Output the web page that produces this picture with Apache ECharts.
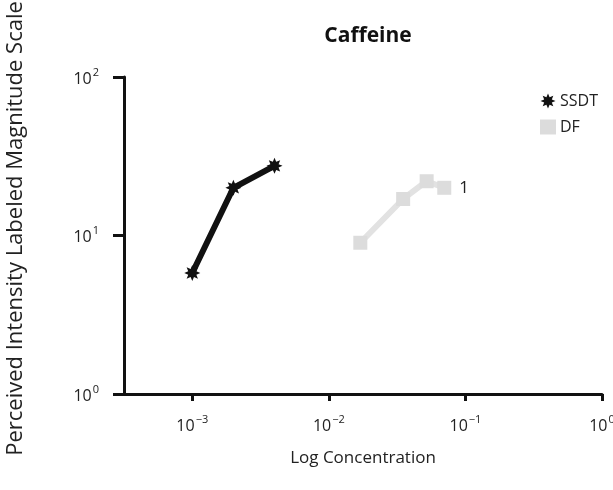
<!DOCTYPE html>
<html>
<head>
<meta charset="utf-8">
<style>html,body{margin:0;padding:0;background:#fff}#c{width:613px;height:490px}</style>
<script src="https://cdn.jsdelivr.net/npm/echarts@6/dist/echarts.min.js"></script>
</head>
<body>
<div id="c"></div>
<script>
// Data
const ssdtX = [0.001, 0.002, 0.004];
const ssdtY = [5.8, 20, 27.5];
const dfX = [0.017, 0.035, 0.052, 0.07];
const dfY = [9, 17, 22, 20];
const xTicks = [0.001, 0.01, 0.1, 1];
const yTicks = [1, 10, 100];
const title = 'Caffeine';
const xName = 'Log Concentration';
const yName = 'Perceived Intensity Labeled Magnitude Scale';
const seriesNames = ['SSDT', 'DF'];
const dfEndLabel = '1';

function starPath(n, ro, ri) {
  let d = '';
  for (let i = 0; i < n * 2; i++) {
    const r = i % 2 === 0 ? ro : ri;
    const a = Math.PI * i / n - Math.PI / 2;
    d += (i === 0 ? 'M' : 'L') + (r * Math.cos(a)).toFixed(3) + ' ' + (r * Math.sin(a)).toFixed(3);
  }
  return 'path://' + d + 'Z';
}
const star = starPath(8, 10, 5.5);
const FONT = 'Open Sans';

function powLabel(v) {
  const e = Math.round(Math.log10(v));
  return '{b|10}{e|' + (e < 0 ? '\u2212' + (-e) : e) + '}';
}
const rich = {
  b: { fontSize: 16, fontFamily: FONT, color: '#222', verticalAlign: 'bottom', lineHeight: 20 },
  e: { fontSize: 11, fontFamily: FONT, color: '#222', verticalAlign: 'bottom', lineHeight: 20, padding: [0, 0, 9, 1] }
};

const chart = echarts.init(document.getElementById('c'));
chart.setOption({
  animation: false,
  title: {
    text: title, left: 363, textAlign: 'center', top: 21,
    textStyle: { fontFamily: FONT, fontSize: 21, fontWeight: 'bold', color: '#111' }
  },
  legend: {
    left: 535, top: 88, orient: 'vertical', itemGap: 10, itemWidth: 16, itemHeight: 15,
    textStyle: { fontFamily: FONT, fontSize: 16, color: '#222', padding: [0, 0, 0, -1] },
    data: [
      { name: seriesNames[0], icon: star, itemStyle: { color: '#111' } },
      { name: seriesNames[1], icon: 'rect', itemStyle: { color: '#dcdcdc' } }
    ]
  },
  grid: { left: 124, right: 11, top: 77, bottom: 96, containLabel: false, outerBoundsMode: 'none' },
  xAxis: {
    type: 'log', logBase: 10, min: Math.pow(10, -3.5), max: 1,
    name: xName, nameLocation: 'middle', nameGap: 56,
    nameTextStyle: { fontFamily: FONT, fontSize: 17, color: '#222' },
    axisLine: { lineStyle: { color: '#111', width: 3 } },
    axisTick: { show: true, length: 7, lineStyle: { color: '#111', width: 3 }, customValues: xTicks },
    axisLabel: { margin: 20, formatter: powLabel, rich: rich, customValues: xTicks },
    splitLine: { show: false }, minorTick: { show: false }
  },
  yAxis: {
    type: 'log', logBase: 10, min: 1, max: 100,
    name: yName, nameLocation: 'middle', nameGap: 97,
    nameTextStyle: { fontFamily: FONT, fontSize: 22, color: '#222', padding: [0, 0, 0, 14] },
    axisLine: { lineStyle: { color: '#111', width: 3 } },
    axisTick: { show: true, length: 11, lineStyle: { color: '#111', width: 3 }, customValues: yTicks },
    axisLabel: { margin: 25, formatter: powLabel, rich: rich, customValues: yTicks },
    splitLine: { show: false }
  },
  series: [
    {
      name: seriesNames[0], type: 'line',
      data: ssdtX.map((x, i) => [x, ssdtY[i]]),
      symbol: star, symbolSize: 16,
      lineStyle: { color: '#111', width: 6 },
      itemStyle: { color: '#111' }, z: 3
    },
    {
      name: seriesNames[1], type: 'line',
      data: dfX.map((x, i) => [x, dfY[i]]),
      symbol: 'rect', symbolSize: 14,
      lineStyle: { color: '#e2e2e2', width: 6 },
      itemStyle: { color: '#dcdcdc' },
      label: {
        show: true, position: 'right', distance: 8,
        fontFamily: FONT, fontSize: 17, color: '#222',
        formatter: p => (p.dataIndex === dfX.length - 1 ? dfEndLabel : '')
      }
    }
  ]
});
</script>
</body>
</html>
